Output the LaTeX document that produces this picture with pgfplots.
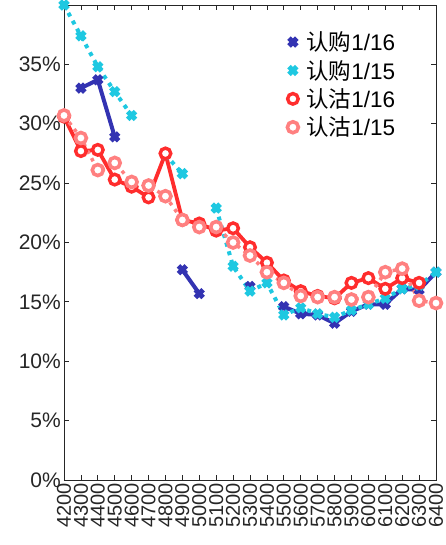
\documentclass[border=0pt]{standalone}
\usepackage{pgfplots}
\pgfplotsset{compat=1.18}
\usepackage{fontspec}
\setmainfont{Liberation Sans}
\newfontfamily\cjk{Noto Sans CJK SC}
\definecolor{cblue}{RGB}{51,51,178}
\definecolor{ccyan}{RGB}{30,200,225}
\definecolor{cred}{RGB}{255,45,45}
\definecolor{cpink}{RGB}{255,128,128}
\definecolor{txt}{RGB}{38,38,38}
\begin{document}
\begin{tikzpicture}
\path[use as bounding box] (-64bp,-65bp) rectangle (382bp,480bp);
\begin{axis}[
  scale only axis, width=372bp, height=475bp,
  at={(0,0)}, anchor=south west,
  xmin=4200, xmax=6400, ymin=0, ymax=40,
  xtick={4200,4300,...,6400}, ytick={0,5,...,35},
  yticklabel={\pgfmathprintnumber{\tick}\%},
  /pgf/number format/assume math mode=true,
  /pgf/number format/1000 sep={},
  tick label style={font=\fontsize{21bp}{24bp}\selectfont, text=txt},
  xticklabel style={rotate=90, anchor=east, inner sep=2bp, font=\fontsize{20bp}{22bp}\selectfont, xshift=-1bp},
  yticklabel style={inner sep=3bp},
  tick align=inside, major tick length=5bp,
  tick style={line width=0.8bp, color=txt},
  axis line style={line width=0.8bp, color=txt},
  unbounded coords=jump,
  legend style={at={(0.60,0.948)}, anchor=north west, draw=none, fill=none,
    font=\fontsize{22.5bp}{25bp}\selectfont, text=black, row sep=4bp,
    cells={anchor=west}, inner sep=0pt,
    /tikz/every odd column/.append style={column sep=6bp}},
  legend image code/.code={\draw[#1] plot coordinates {(0.2cm,0cm)};},
]
\addplot[cblue, line width=4bp, mark=x, mark size=5.5bp, mark options={solid, line width=5bp}]
coordinates {(4200,nan)(4300,33.0)(4400,33.7)(4500,28.9)(4600,nan)(4700,nan)(4800,nan)(4900,17.7)(5000,15.7)(5100,nan)(5200,nan)(5300,16.3)(5400,nan)(5500,14.6)(5600,14.0)(5700,13.9)(5800,13.2)(5900,14.2)(6000,14.8)(6100,14.8)(6200,16.1)(6300,16.0)(6400,17.5)};
\addlegendentry{{\cjk 认购}1/16}
\addplot[ccyan, line width=4bp, line cap=butt, dash pattern=on 4bp off 5bp, mark=x, mark size=5.5bp, mark options={solid, line width=5bp}]
coordinates {(4200,40.0)(4300,37.4)(4400,34.8)(4500,32.7)(4600,30.7)(4700,nan)(4800,27.4)(4900,25.8)(5000,nan)(5100,22.9)(5200,18.0)(5300,15.9)(5400,16.6)(5500,13.9)(5600,14.5)(5700,14.0)(5800,13.7)(5900,14.3)(6000,14.8)(6100,15.3)(6200,16.1)(6300,16.4)(6400,17.5)};
\addlegendentry{{\cjk 认购}1/15}
\addplot[cred, line width=3.8bp, mark=*, mark size=5.3bp, mark options={solid, fill=white, draw=cred, line width=3.4bp}]
coordinates {(4200,30.6)(4300,27.7)(4400,27.8)(4500,25.3)(4600,24.7)(4700,23.8)(4800,27.5)(4900,21.9)(5000,21.6)(5100,21.0)(5200,21.2)(5300,19.6)(5400,18.3)(5500,16.8)(5600,15.9)(5700,15.5)(5800,15.3)(5900,16.6)(6000,17.0)(6100,16.1)(6200,17.0)(6300,16.6)};
\addlegendentry{{\cjk 认沽}1/16}
\addplot[cpink, line width=3.5bp, line cap=butt, dash pattern=on 3.5bp off 5bp, mark=*, mark size=5.5bp, mark options={solid, fill=white, draw=cpink, line width=3.6bp}]
coordinates {(4200,30.7)(4300,28.8)(4400,26.1)(4500,26.7)(4600,25.1)(4700,24.8)(4800,23.9)(4900,21.9)(5000,21.3)(5100,21.3)(5200,20.0)(5300,18.9)(5400,17.5)(5500,16.6)(5600,15.5)(5700,15.4)(5800,15.4)(5900,15.2)(6000,15.4)(6100,17.5)(6200,17.8)(6300,15.1)(6400,14.9)};
\addlegendentry{{\cjk 认沽}1/15}
\end{axis}
\end{tikzpicture}
\end{document}
